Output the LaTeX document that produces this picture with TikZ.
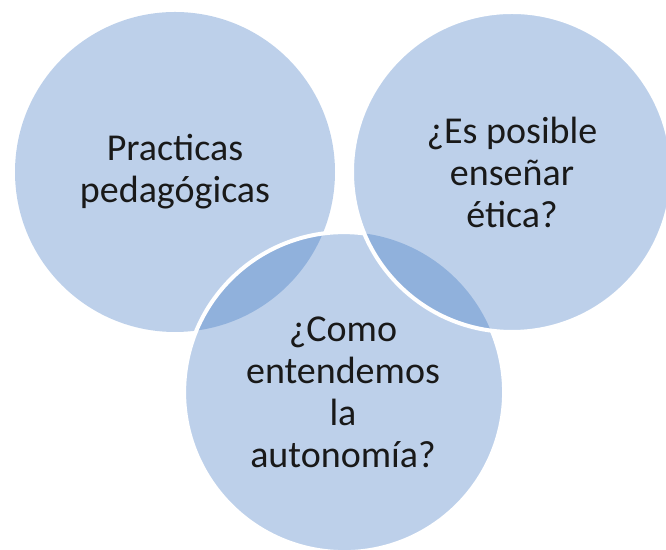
\documentclass[tikz,border=0pt]{standalone}
\usepackage{fontspec}
\setmainfont{Carlito}
\definecolor{vennblue}{RGB}{50,110,190}
\begin{document}
\begin{tikzpicture}
  [x=0.5pt,y=0.5pt,rim/.style={draw=white,line width=2pt},
   every node/.style={circle,minimum size=160pt,outer sep=0pt,fill=vennblue,
   fill opacity=.32,text opacity=1,align=center,text=black!90,
   font=\fontsize{19}{21}\selectfont}]
  \useasboundingbox (0,0) rectangle (666,550);
  \node (n1) at (175,378) {Practicas\\pedagógicas};
  \node (n3) at (343,158) {¿Como\\entendemos\\la\\autonomía?};
  % white edge of the lower circle, left part only
  \draw[rim] (n3.82.4) arc[start angle=82.4,end angle=382.6,radius=80pt];
  \node[rim] (n2) at (512,378) {¿Es posible\\enseñar\\ética?};
\end{tikzpicture}
\end{document}
